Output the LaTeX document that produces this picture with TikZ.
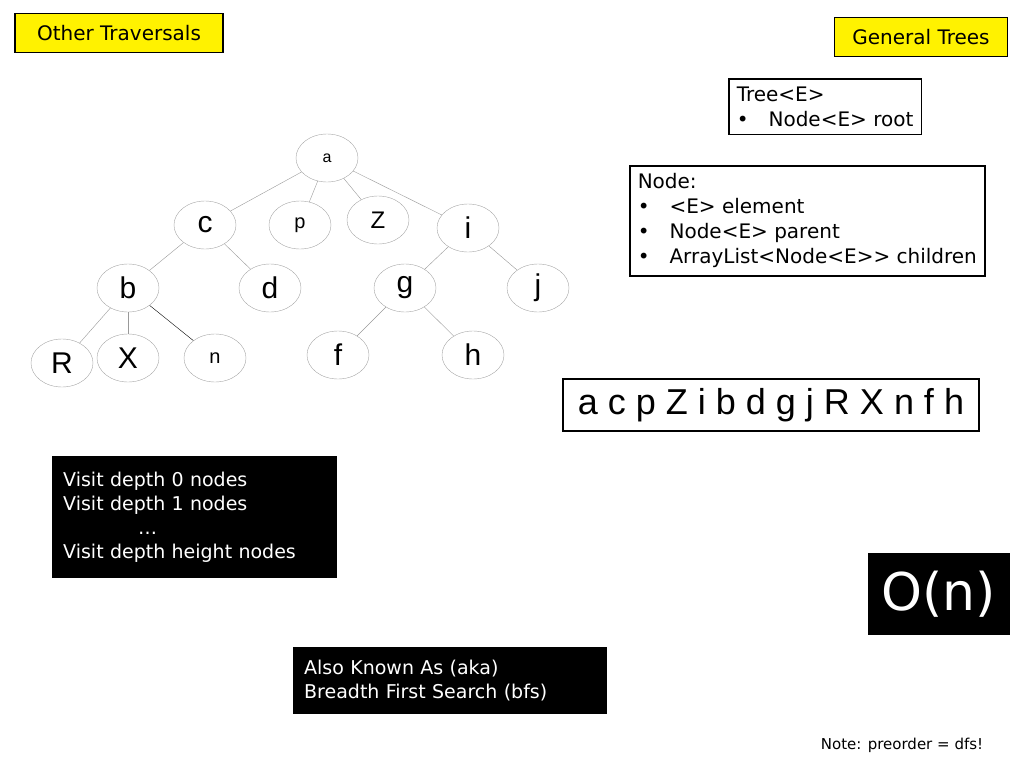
\documentclass[tikz,border=0pt]{standalone}
\usepackage{fontspec}
\setmainfont{Liberation Sans}
\newfontfamily\boxfont{DejaVu Sans}
\usetikzlibrary{shapes.geometric}
\tikzset{
  tnode/.style={ellipse, draw=gray!70, thin, minimum width=62pt, minimum height=48pt, inner sep=0pt},
  tedge/.style={draw=gray!80, thin},
  ybox/.style={draw=black, line width=1.5pt, fill=yellow, font=\boxfont\fontsize{20}{24}\selectfont, inner sep=6pt},
  wbox/.style={draw=black, line width=1.5pt, fill=white, font=\boxfont\fontsize{20}{27}\selectfont, align=left, inner sep=8pt, anchor=north west},
  kbox/.style={fill=black, text=white, font=\boxfont\fontsize{19}{27}\selectfont, align=left, inner sep=11pt, anchor=north west}
}
\begin{document}
\begin{tikzpicture}[x=1pt,y=-1pt]
\useasboundingbox (0,0) rectangle (1024,768);
% title boxes
\node[ybox, minimum width=208pt, minimum height=39pt] (other) at (119,33) {Other Traversals};
\node[ybox, minimum width=173pt, minimum height=39pt] (general) at (921,37) {General Trees};
% tree
\node[tnode, font=\fontsize{16}{18}\selectfont] (a) at (327,158) {a};
\node[tnode, font=\fontsize{30}{32}\selectfont] (c) at (205,225) {c};
\node[tnode, font=\fontsize{20}{22}\selectfont] (p) at (300,225) {p};
\node[tnode, font=\fontsize{24}{26}\selectfont] (Z) at (378,220) {Z};
\node[tnode, font=\fontsize{30}{32}\selectfont] (i) at (468,228) {i};
\node[tnode, font=\fontsize{30}{32}\selectfont] (b) at (128,288) {b};
\node[tnode, font=\fontsize{30}{32}\selectfont] (d) at (270,288) {d};
\node[tnode, font=\fontsize{30}{32}\selectfont] (g) at (405,288) {g};
\node[tnode, font=\fontsize{30}{32}\selectfont] (j) at (538,288) {j};
\node[tnode, font=\fontsize{30}{32}\selectfont] (R) at (62,363) {R};
\node[tnode, font=\fontsize{30}{32}\selectfont] (X) at (128,358) {X};
\node[tnode, font=\fontsize{20}{22}\selectfont] (n) at (215,358) {n};
\node[tnode, font=\fontsize{30}{32}\selectfont] (f) at (338,355) {f};
\node[tnode, font=\fontsize{30}{32}\selectfont] (h) at (473,355) {h};
\foreach \s/\t in {a/c,a/p,a/Z,a/i,c/b,c/d,i/g,i/j,b/R,b/X,g/f,g/h}
  \draw[tedge] (\s) -- (\t);
\draw[black, thin] (b) -- (n);
% class boxes
\node[wbox] (tree) at (728,78) {Tree<E>\\[-2pt]\textbullet\quad Node<E> root};
\node[wbox] (node) at (629,165) {Node:\\[-2pt]\textbullet\quad <E> element\\[-2pt]\textbullet\quad Node<E> parent\\[-2pt]\textbullet\quad ArrayList<Node<E>{}> children};
% order
\node[draw=black, line width=1.5pt, minimum width=416pt, minimum height=52pt, font=\fontsize{36}{40}\selectfont] (order) at (771,405) {a c p Z i b d g j R X n f h};
% black boxes
\node[kbox, text width=263pt, minimum height=122pt] (levels) at (52,456) {Visit depth 0 nodes\\[-3pt]Visit depth 1 nodes\\[-3pt]\hspace{75pt}\dots\\[-3pt]Visit depth height nodes};
\node[kbox, minimum width=142pt, minimum height=82pt, anchor=center, font=\boxfont\fontsize{52}{56}\selectfont, inner sep=0pt] (big) at (939,594) {O(n)};
\node[kbox, text width=292pt, minimum height=67pt] (aka) at (293,647) {Also Known As (aka)\\[-3pt]Breadth First Search (bfs)};
\node[font=\boxfont\fontsize{15}{17}\selectfont] (note) at (902,745) {Note: preorder = dfs!};
\end{tikzpicture}
\end{document}
